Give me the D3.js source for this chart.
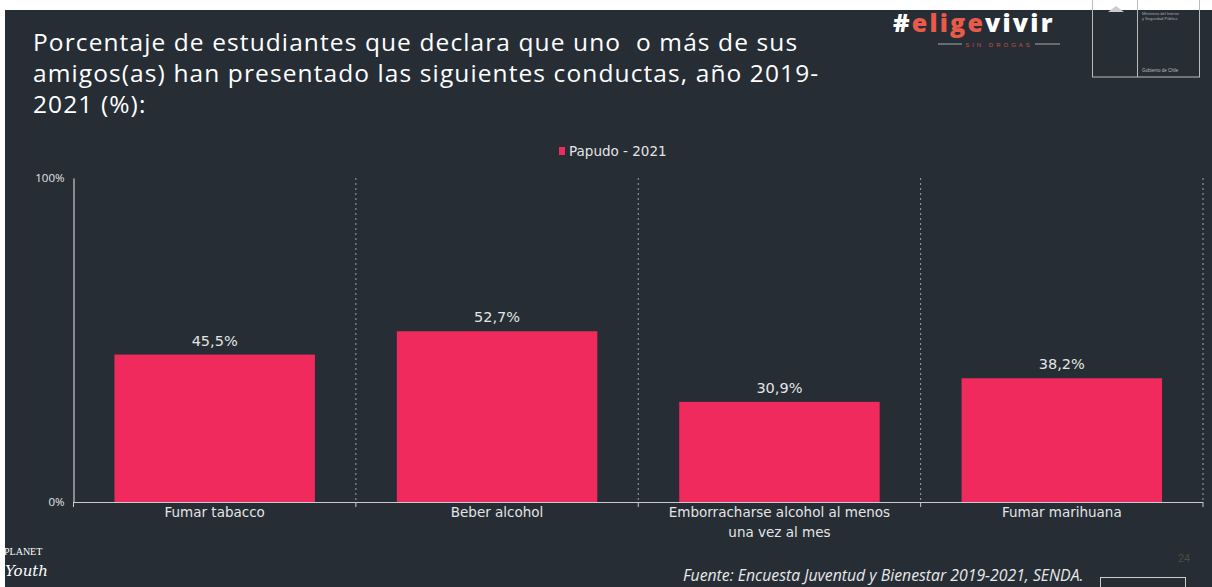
<!DOCTYPE html>
<html><head><meta charset="utf-8">
<script src="https://cdn.jsdelivr.net/npm/d3@7"></script>
<style>
html,body{margin:0;padding:0;background:#fff;}
svg{display:block;}
</style></head>
<body>
<script>
const categories = [["Fumar tabacco"], ["Beber alcohol"], ["Emborracharse alcohol al menos", "una vez al mes"], ["Fumar marihuana"]];
const values = [45.5, 52.7, 30.9, 38.2];
const valueLabels = ["45,5%", "52,7%", "30,9%", "38,2%"];
const yTicks = [0, 100];
const yTickLabels = ["0%", "100%"];
const seriesName = "Papudo - 2021";
const titleLines = ["Porcentaje de estudiantes que declara que uno  o más de sus", "amigos(as) han presentado las siguientes conductas, año 2019-", "2021 (%):"];

const W = 1212, H = 587;
const bg = "#262d35", bar = "#f02a5c", txt = "#e4e4e4";
const svg = d3.select("body").append("svg").attr("width", W).attr("height", H);

svg.append("rect").attr("x", 0).attr("y", 0).attr("width", W).attr("height", H).attr("fill", "#fff");
svg.append("rect").attr("x", 5).attr("y", 10).attr("width", W - 5).attr("height", H - 10).attr("fill", bg);

// title
svg.append("text").attr("x", 33).attr("y", 51)
  .attr("font-family", "'Open Sans', sans-serif").attr("font-size", 24.5).attr("letter-spacing", 1.1).attr("fill", "#fff")
  .selectAll("tspan").data(titleLines).join("tspan")
  .attr("x", 33).attr("dy", (d, i) => i === 0 ? 0 : 31).attr("xml:space", "preserve").text(d => d);

// logo #eligevivir
const logo = svg.append("text").attr("x", 893).attr("y", 32)
  .attr("font-family", "'Open Sans', Lato, sans-serif").attr("font-weight", 800).attr("font-size", 25).attr("letter-spacing", 2.2);
logo.append("tspan").attr("fill", "#fff").text("#");
logo.append("tspan").attr("fill", "#ea5a4a").text("elige");
logo.append("tspan").attr("fill", "#fff").text("vivir");
svg.append("line").attr("x1", 938).attr("x2", 962).attr("y1", 44).attr("y2", 44).attr("stroke", "#aaa").attr("stroke-width", 1);
svg.append("line").attr("x1", 1035).attr("x2", 1060).attr("y1", 44).attr("y2", 44).attr("stroke", "#aaa").attr("stroke-width", 1);
svg.append("text").attr("x", 999).attr("y", 47).attr("text-anchor", "middle").attr("font-size", 6).attr("letter-spacing", 3)
  .attr("font-family", "sans-serif").attr("fill", "#c8504a").text("SIN DROGAS");
// gov box
svg.append("rect").attr("x", 1092.5).attr("y", -2).attr("width", 107).attr("height", 79).attr("fill", "none").attr("stroke", "#bbb").attr("stroke-width", 1);
svg.append("line").attr("x1", 1137.5).attr("x2", 1137.5).attr("y1", 0).attr("y2", 77).attr("stroke", "#bbb");
svg.append("text").attr("x", 1142).attr("y", 15).attr("font-size", 4).attr("fill", "#aaa").attr("font-family", "sans-serif").text("Ministerio del Interior");
svg.append("text").attr("x", 1142).attr("y", 20).attr("font-size", 4).attr("fill", "#aaa").attr("font-family", "sans-serif").text("y Seguridad Pública");
svg.append("text").attr("x", 1142).attr("y", 72).attr("font-size", 4.5).attr("fill", "#bbb").attr("font-family", "sans-serif").text("Gobierno de Chile");
svg.append("path").attr("d", "M1108,12 l8,-6 l8,6 z").attr("fill", "#ccc");

// chart
const x0 = 73.5, x1 = 1203, yTop = 178, yBot = 502;
const x = d3.scaleBand().domain(d3.range(categories.length)).range([x0, x1]).paddingInner(0.29).paddingOuter(0.145);
const step = (x1 - x0) / categories.length;
const y = d3.scaleLinear().domain([0, 100]).range([yBot, yTop]);

// dotted gridlines at band boundaries
const bounds = d3.range(1, categories.length + 1).map(i => x0 + i * step);
svg.append("g").selectAll("line").data(bounds).join("line")
  .attr("x1", d => d).attr("x2", d => d).attr("y1", yTop).attr("y2", yBot)
  .attr("stroke", "#9aa3ab").attr("stroke-width", 1).attr("stroke-dasharray", "2,3");

// bars
svg.append("g").selectAll("rect").data(values).join("rect")
  .attr("x", (d, i) => x(i)).attr("width", x.bandwidth())
  .attr("y", d => y(d)).attr("height", d => yBot - y(d)).attr("fill", bar);

// value labels
svg.append("g").selectAll("text").data(values).join("text")
  .attr("x", (d, i) => x(i) + x.bandwidth() / 2).attr("y", d => y(d) - 9)
  .attr("text-anchor", "middle").attr("font-family", "'DejaVu Sans', sans-serif").attr("font-size", 14.5)
  .attr("fill", txt).text((d, i) => valueLabels[i]);

// y axis
const yAxis = d3.axisLeft(y).tickValues(yTicks).tickFormat((d, i) => yTickLabels[i]).tickSize(0).tickPadding(9);
const ya = svg.append("g").attr("transform", `translate(${x0},0)`).call(yAxis);
ya.select(".domain").attr("stroke", "#c8ccd0").attr("stroke-width", 1.2);
ya.selectAll("text").attr("fill", txt).attr("font-family", "'Open Sans', sans-serif").attr("font-size", 11.5);
svg.append("line").attr("x1", x0).attr("x2", x0).attr("y1", yBot).attr("y2", yBot + 5).attr("stroke", "#c8ccd0");

// x axis
svg.append("line").attr("x1", x0).attr("x2", x1).attr("y1", yBot + 0.5).attr("y2", yBot + 0.5).attr("stroke", "#c8ccd0").attr("stroke-width", 1.2);
svg.append("g").selectAll("line").data(bounds).join("line")
  .attr("x1", d => d).attr("x2", d => d).attr("y1", yBot).attr("y2", yBot + 5).attr("stroke", "#c8ccd0");
svg.append("g").selectAll("text").data(categories).join("text")
  .attr("x", (d, i) => x(i) + x.bandwidth() / 2).attr("y", yBot + 15)
  .attr("text-anchor", "middle").attr("font-family", "'DejaVu Sans', sans-serif").attr("font-size", 13.5)
  .attr("fill", txt)
  .selectAll("tspan").data(d => d).join("tspan")
  .attr("x", function () { return d3.select(this.parentNode).attr("x"); })
  .attr("dy", (d, i) => i === 0 ? 0 : 20).text(d => d);

// legend
svg.append("rect").attr("x", 559).attr("y", 147).attr("width", 6).attr("height", 8).attr("fill", bar);
svg.append("text").attr("x", 569).attr("y", 156).attr("font-family", "'DejaVu Sans', sans-serif").attr("font-size", 13.5)
  .attr("fill", txt).text(seriesName);

// Planet Youth logo
svg.append("text").attr("x", 4).attr("y", 555).attr("font-family", "'Liberation Serif', serif").attr("font-size", 10).attr("fill", "#fff").text("PLANET");
svg.append("text").attr("x", 5).attr("y", 576).attr("font-family", "'DejaVu Serif', serif").attr("font-style", "italic").attr("font-size", 15).attr("fill", "#fff").text("Youth");

// source
svg.append("text").attr("x", 683).attr("y", 581).attr("font-family", "'Open Sans', sans-serif").attr("font-style", "italic")
  .attr("font-size", 15.8).attr("fill", "#e8e8e8").text("Fuente: Encuesta Juventud y Bienestar 2019-2021, SENDA.");

// page number & small box
svg.append("text").attr("x", 1178).attr("y", 562).attr("font-family", "sans-serif").attr("font-size", 11).attr("fill", "#4a5040").text("24");
svg.append("rect").attr("x", 1100.5).attr("y", 577.5).attr("width", 85).attr("height", 20).attr("fill", "none").attr("stroke", "#ccc");
</script>
</body></html>
